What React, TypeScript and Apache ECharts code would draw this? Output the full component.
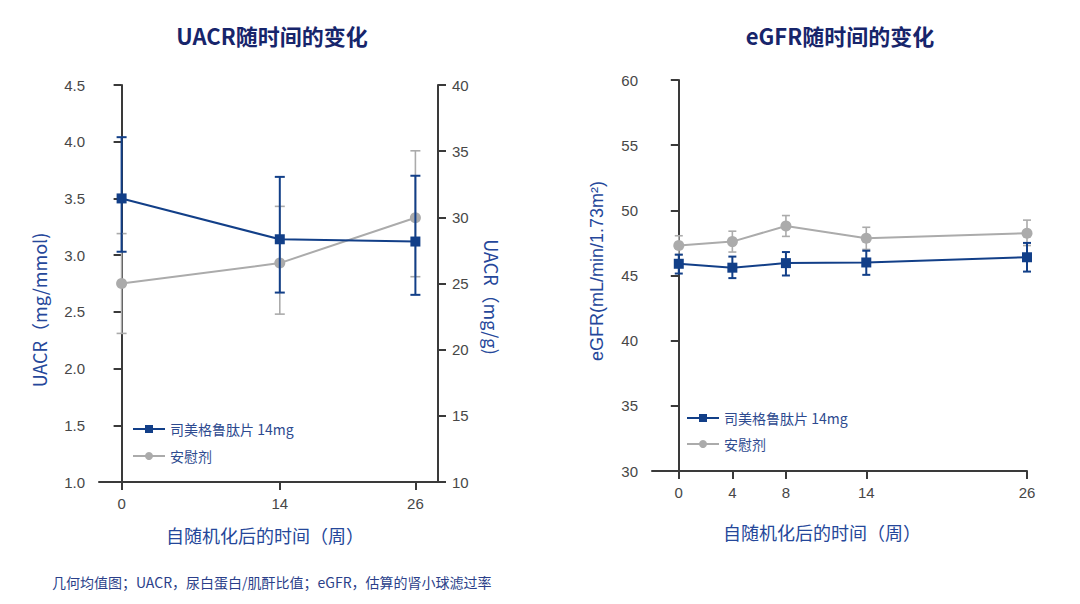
import React, { useEffect, useRef } from 'react';
import * as echarts from 'echarts';

// ---- Data ----
const seriesNames = ['司美格鲁肽片 14mg', '安慰剂'];

const uacrWeeks = [0, 14, 26];
const uacrSema = [3.5, 3.14, 3.12];
const uacrSemaLow = [3.03, 2.67, 2.65];
const uacrSemaHigh = [4.04, 3.69, 3.7];
const uacrPlac = [2.75, 2.93, 3.33];
const uacrPlacLow = [2.31, 2.48, 2.81];
const uacrPlacHigh = [3.19, 3.43, 3.92];

const egfrWeeks = [0, 4, 8, 14, 26];
const egfrSema = [45.9, 45.6, 45.95, 46.0, 46.4];
const egfrSemaLow = [45.15, 44.8, 45.0, 45.05, 45.3];
const egfrSemaHigh = [46.6, 46.45, 46.8, 46.9, 47.5];
const egfrPlac = [47.3, 47.6, 48.8, 47.85, 48.25];
const egfrPlacLow = [46.6, 46.8, 48.0, 47.0, 47.3];
const egfrPlacHigh = [48.05, 48.4, 49.6, 48.7, 49.25];

const uacrMmolTicks = [1.0, 1.5, 2.0, 2.5, 3.0, 3.5, 4.0, 4.5];
const uacrMgTicks = [10, 15, 20, 25, 30, 35, 40];
const egfrTicks = [30, 35, 40, 45, 50, 55, 60];

const BLUE = '#123f88';
const GREY = '#ababab';
const AXIS = '#3a3a3a';
const LABEL = '#474747';
const NAMEBLUE = '#25479a';
const TITLE = '#17256b';
const FONT = "'Liberation Sans', 'Noto Sans CJK SC', sans-serif";
const CJK = "'Noto Sans CJK SC', 'Liberation Sans', sans-serif";

const errRender = (capW: number, color: string, lw: number) => (params: any, api: any) => {
  const x = api.value(0);
  const lo = api.coord([x, api.value(1)]);
  const hi = api.coord([x, api.value(2)]);
  const style = { stroke: color, lineWidth: lw };
  return {
    type: 'group',
    children: [
      { type: 'line', shape: { x1: lo[0], y1: lo[1], x2: hi[0], y2: hi[1] }, style },
      { type: 'line', shape: { x1: lo[0] - capW / 2, y1: lo[1], x2: lo[0] + capW / 2, y2: lo[1] }, style },
      { type: 'line', shape: { x1: hi[0] - capW / 2, y1: hi[1], x2: hi[0] + capW / 2, y2: hi[1] }, style },
    ],
  };
};

const xAxisBase = (min: number, max: number, ticks: number[], gridIndex: number) => ({
  type: 'value',
  gridIndex,
  min,
  max,
  axisLine: { show: true, onZero: false, lineStyle: { color: AXIS, width: 2 } },
  axisTick: { show: true, customValues: ticks, length: 8, inside: false, lineStyle: { color: AXIS, width: 2 } },
  axisLabel: { customValues: ticks, margin: 14, color: LABEL, fontSize: 15, fontFamily: FONT },
  splitLine: { show: false },
});

const yAxisBase = (ticks: number[], gridIndex: number, position: string, decimals: number) => ({
  type: 'value',
  gridIndex,
  position,
  min: ticks[0],
  max: ticks[ticks.length - 1],
  interval: ticks[1] - ticks[0],
  axisLine: { show: true, lineStyle: { color: AXIS, width: 2 } },
  axisTick: { show: true, length: 8, inside: false, lineStyle: { color: AXIS, width: 2 } },
  axisLabel: {
    margin: 14,
    color: LABEL,
    fontSize: 15,
    fontFamily: FONT,
    formatter: (v: number) => v.toFixed(decimals),
  },
  splitLine: { show: false },
});

const legendBase = (left: number, top: number, gap: number) => ({
  left,
  top,
  orient: 'vertical',
  data: seriesNames,
  itemWidth: 32,
  itemHeight: 10,
  itemGap: gap,
  selectedMode: false,
  textStyle: { color: '#2d4a8f', fontSize: 14, fontFamily: CJK },
});

const txt = (text: string, x: number, y: number, font: string, fill: string, rotation = 0, align = 'center') => ({
  type: 'text',
  x,
  y,
  rotation,
  style: {
    text,
    font,
    fill,
    align,
    verticalAlign: 'middle',
    textAlign: align,
    textVerticalAlign: 'middle',
  },
});

export default function App() {
  const ref = useRef<HTMLDivElement>(null);
  useEffect(() => {
    if (!ref.current) return;
    const chart = echarts.init(ref.current, null, { renderer: 'svg' });

    const lineSeries = (name: string, x: number, y: number, weeks: number[], vals: number[], sema: boolean) => ({
      type: 'line',
      name,
      xAxisIndex: x,
      yAxisIndex: y,
      data: weeks.map((w, i) => [w, vals[i]]),
      symbol: sema ? 'rect' : 'circle',
      symbolSize: sema ? 10 : 11,
      lineStyle: { color: sema ? BLUE : GREY, width: 2 },
      itemStyle: { color: sema ? BLUE : GREY },
      z: sema ? 6 : 3,
    });

    const errSeries = (x: number, y: number, weeks: number[], lo: number[], hi: number[], cap: number, color: string, lw: number, z: number) => ({
      type: 'custom',
      xAxisIndex: x,
      yAxisIndex: y,
      data: weeks.map((w, i) => [w, lo[i], hi[i]]),
      encode: { x: 0, y: [1, 2] },
      renderItem: errRender(cap, color, lw),
      z,
      silent: true,
    });

    chart.setOption({
      animation: false,
      backgroundColor: '#ffffff',
      grid: [
        { left: 99, right: 1080 - 438, top: 85, bottom: 604 - 482, containLabel: false },
        { left: 652, right: 1080 - 1027, top: 80, bottom: 604 - 471, containLabel: false },
      ],
      xAxis: [xAxisBase(-2, 28, uacrWeeks, 0), xAxisBase(-2, 26, egfrWeeks, 1)],
      yAxis: [
        yAxisBase(uacrMmolTicks, 0, 'left', 1),
        yAxisBase(uacrMgTicks, 0, 'right', 0),
        yAxisBase(egfrTicks, 1, 'left', 0),
      ],
      legend: [legendBase(127, 417, 13), legendBase(681, 406, 12)],
      series: [
        errSeries(0, 0, uacrWeeks, uacrPlacLow, uacrPlacHigh, 10, GREY, 1.6, 2),
        lineSeries(seriesNames[1], 0, 0, uacrWeeks, uacrPlac, false),
        errSeries(0, 0, uacrWeeks, uacrSemaLow, uacrSemaHigh, 10, BLUE, 2, 5),
        lineSeries(seriesNames[0], 0, 0, uacrWeeks, uacrSema, true),
        errSeries(1, 2, egfrWeeks, egfrPlacLow, egfrPlacHigh, 8, GREY, 1.6, 2),
        lineSeries(seriesNames[1], 1, 2, egfrWeeks, egfrPlac, false),
        errSeries(1, 2, egfrWeeks, egfrSemaLow, egfrSemaHigh, 8, BLUE, 2, 5),
        lineSeries(seriesNames[0], 1, 2, egfrWeeks, egfrSema, true),
      ],
      graphic: [
        txt('UACR随时间的变化', 272, 35, `bold 22px ${CJK}`, TITLE),
        txt('eGFR随时间的变化', 840, 35, `bold 22px ${CJK}`, TITLE),
        txt('UACR（mg/mmol)', 39, 310, `18px ${CJK}`, NAMEBLUE, Math.PI / 2),
        txt('UACR（mg/g)', 492, 297, `18px ${CJK}`, NAMEBLUE, -Math.PI / 2),
        txt('eGFR(mL/min/1.73m²)', 597, 271, `18px ${FONT}`, NAMEBLUE, Math.PI / 2),
        txt('自随机化后的时间（周）', 265, 535, `18px ${CJK}`, NAMEBLUE),
        txt('自随机化后的时间（周）', 822, 532, `18px ${CJK}`, NAMEBLUE),
        txt('几何均值图；UACR，尿白蛋白/肌酐比值；eGFR，估算的肾小球滤过率', 52, 582, `14px ${CJK}`, '#2b3f8a', 0, 'left'),
      ],
    });
    return () => chart.dispose();
  }, []);

  return (
    <div
      ref={ref}
      style={{ position: 'fixed', left: 0, top: 0, width: 1080, height: 604, background: '#fff' }}
    />
  );
}
